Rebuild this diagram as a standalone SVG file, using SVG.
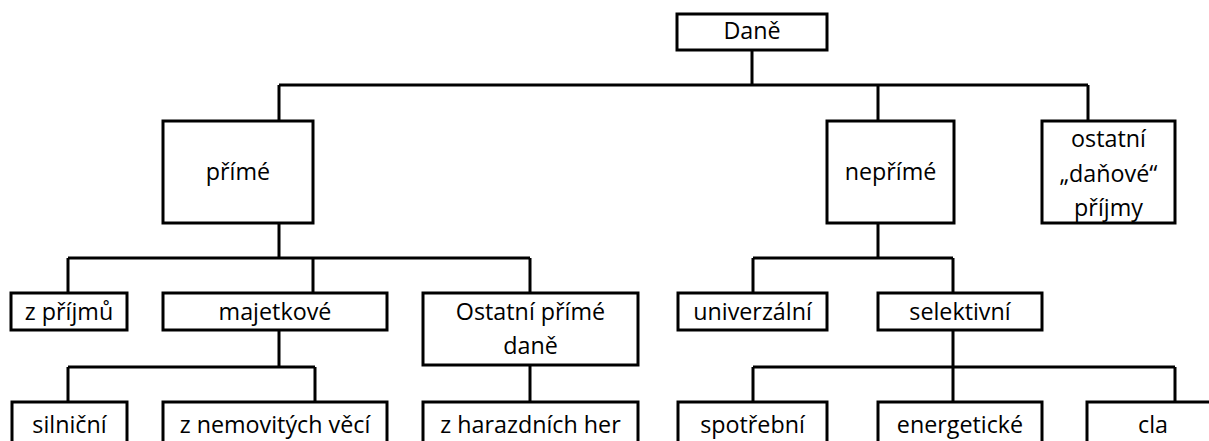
<svg xmlns="http://www.w3.org/2000/svg" width="1209" height="441" viewBox="0 0 1209 441">
<style>
.box{fill:#fff;stroke:#000;stroke-width:3}
.lbl{font-family:"Open Sans","Noto Sans",sans-serif;font-size:23.3px;fill:#000;text-anchor:middle}
.con{fill:none;stroke:#000;stroke-width:3}
</style>
<rect width="1209" height="441" fill="#fff"/>
<g id="connectors" class="con">
<path d="M752,50V85M279,85H1088M279,85V121M878,85V121M1088,85V121"/>
<path d="M279,223V258M68,258H530M68,258V293M313,258V293M530,258V293"/>
<path d="M878,223V258M753,258H953M753,258V293M953,258V293"/>
<path d="M279,330V367M68,367H315M68,367V402M315,367V402"/>
<path d="M530,365V402"/>
<path d="M953,330V402M753,367H1175M753,367V402M1175,367V402"/>
</g>
<g id="n-dane"><rect class="box" x="677" y="14" width="150" height="36"/><text class="lbl" x="752" y="39">Daně</text></g>
<g id="n-prime"><rect class="box" x="163" y="121" width="150" height="102"/><text class="lbl" x="238" y="180">přímé</text></g>
<g id="n-neprime"><rect class="box" x="827" y="121" width="127" height="102"/><text class="lbl" x="890.5" y="180">nepřímé</text></g>
<g id="n-ostatni"><rect class="box" x="1042" y="121" width="133" height="102"/><text class="lbl" x="1108.5" y="147">ostatní</text><text class="lbl" x="1108.5" y="182">„daňové“</text><text class="lbl" x="1108.5" y="216">příjmy</text></g>
<g id="n-zprijmu"><rect class="box" x="11" y="293" width="116" height="37"/><text class="lbl" x="69" y="320">z příjmů</text></g>
<g id="n-majetkove"><rect class="box" x="163" y="293" width="224" height="37"/><text class="lbl" x="275" y="320">majetkové</text></g>
<g id="n-ostatniprime"><rect class="box" x="423" y="293" width="215" height="72"/><text class="lbl" x="530.5" y="320">Ostatní přímé</text><text class="lbl" x="530.5" y="354">daně</text></g>
<g id="n-univerzalni"><rect class="box" x="678" y="293" width="149" height="37"/><text class="lbl" x="752.5" y="320">univerzální</text></g>
<g id="n-selektivni"><rect class="box" x="878" y="293" width="164" height="37"/><text class="lbl" x="960" y="320">selektivní</text></g>
<g id="n-silnicni"><rect class="box" x="12" y="402" width="115" height="50"/><text class="lbl" x="69.5" y="433">silniční</text></g>
<g id="n-nemovitosti"><rect class="box" x="163" y="402" width="224" height="50"/><text class="lbl" x="275" y="433">z nemovitých věcí</text></g>
<g id="n-hazard"><rect class="box" x="423" y="402" width="215" height="50"/><text class="lbl" x="530.5" y="433">z harazdních her</text></g>
<g id="n-spotrebni"><rect class="box" x="678" y="402" width="149" height="50"/><text class="lbl" x="752.5" y="433">spotřební</text></g>
<g id="n-energeticke"><rect class="box" x="878" y="402" width="164" height="50"/><text class="lbl" x="960" y="433">energetické</text></g>
<g id="n-cla"><rect class="box" x="1087" y="402" width="132" height="50"/><text class="lbl" x="1153" y="433">cla</text></g>
</svg>
